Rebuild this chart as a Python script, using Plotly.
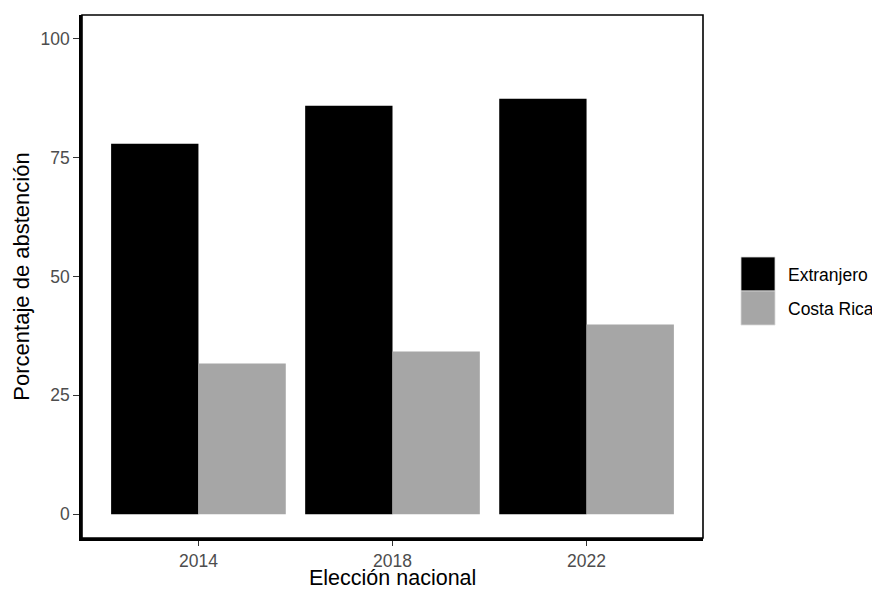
import plotly.graph_objects as go

years = ["2014", "2018", "2022"]
series_names = ["Extranjero", "Costa Rica"]
extranjero = [77.9, 85.9, 87.4]
costa_rica = [31.7, 34.2, 39.9]
colors = ["#000000", "#A6A6A6"]
x_title = "Elección nacional"
y_title = "Porcentaje de abstención"

x = list(range(len(years)))
fig = go.Figure()
for name, vals, col in zip(series_names, [extranjero, costa_rica], colors):
    fig.add_trace(go.Bar(x=x, y=vals, name=name, marker=dict(color=col, line=dict(width=0)),
                         showlegend=False))

# the page has an 8px body margin in the browser, so shift margins by 8px
W, H = 880, 590
L, T = 74, 7
pw, ph = 621, 523
R, B = W - L - pw, H - T - ph

fig.update_layout(
    width=W, height=H,
    margin=dict(l=L, r=R, t=T, b=B, autoexpand=False),
    barmode="group", bargap=0.1, bargroupgap=0,
    plot_bgcolor="white", paper_bgcolor="white",
    font=dict(family="Liberation Sans, Arial, sans-serif"),
)
fig.update_xaxes(
    automargin=False,
    range=[-0.6, 2.6], tickmode="array", tickvals=x, ticktext=years,
    showgrid=False, zeroline=False, showline=True, linecolor="black", linewidth=2.5,
    ticks="outside", ticklen=5, tickcolor="#333333", tickwidth=1.2,
    tickfont=dict(size=17.5, color="#4d4d4d"),
)
fig.update_yaxes(
    automargin=False,
    range=[-5, 105], tickvals=[0, 25, 50, 75, 100],
    showgrid=False, zeroline=False, showline=True, linecolor="black", linewidth=2.5,
    ticks="outside", ticklen=6, tickcolor="#333333", tickwidth=1.2,
    tickfont=dict(size=17.5, color="#4d4d4d"),
    title=dict(text=y_title, font=dict(size=22, color="black"), standoff=5),
)
# panel border
fig.add_shape(type="rect", xref="paper", yref="paper", x0=0, y0=0, x1=1, y1=1,
              line=dict(color="black", width=1.6), fillcolor="rgba(0,0,0,0)", layer="above")

# helpers: reference-pixel layout converted to paper coords
def px(xr):
    return (xr - 82) / pw

def py(yr):
    return (538 - yr) / ph

# x-axis title placed as in the reference
fig.add_annotation(xref="paper", yref="paper", x=0.5, y=py(578),
                   text=x_title, showarrow=False, xanchor="center", yanchor="middle",
                   borderpad=0, font=dict(size=21.5, color="black"))

# manual legend with large keys
key_x0, key_size = 741, 34
key_tops = [257, 291]
for name, col, top in zip(series_names, colors, key_tops):
    fig.add_shape(type="rect", xref="paper", yref="paper",
                  x0=px(key_x0), x1=px(key_x0 + key_size),
                  y0=py(top + key_size), y1=py(top),
                  fillcolor=col, line=dict(color="#d9d9d9", width=0.8))
    fig.add_annotation(xref="paper", yref="paper",
                       x=px(786), y=py(top + key_size / 2 + 1),
                       text=name, showarrow=False, xanchor="left", yanchor="middle",
                       font=dict(size=17.5, color="black"))

fig.write_html("out.html")
